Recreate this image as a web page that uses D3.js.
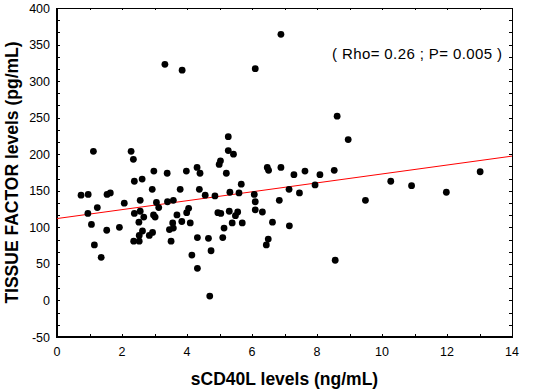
<!DOCTYPE html>
<html>
<head>
<meta charset="utf-8">
<script src="https://cdn.jsdelivr.net/npm/d3@7"></script>
<style>
  body { margin: 0; background: #fff; }
  text { font-family: Arial, "Liberation Sans", sans-serif; }
</style>
</head>
<body>
<div id="chart"></div>
<script>
// sCD40L (ng/mL) and tissue factor (pg/mL), one entry per patient
var scd40l = [
  0.74, 0.96, 1.12, 1.54, 1.64, 2.28, 2.35, 2.38, 2.62, 2.93, 2.98, 3.32, 3.39, 3.85, 3.79, 3.98,
  4.31, 4.40, 4.38, 4.56, 4.86, 4.99, 5.03, 5.21, 5.27, 5.27, 5.43, 5.32, 5.67, 5.60, 6.10, 6.07,
  6.89, 6.47, 6.51, 6.89, 7.29, 7.63, 8.09, 8.53, 8.62, 8.96, 7.14, 7.46, 7.94, 10.27, 10.91, 11.98,
  13.02, 6.84, 9.49, 6.63, 7.15, 8.56,
  0.95, 1.06, 1.15, 1.24, 1.36, 1.53, 1.92, 2.07, 2.38, 2.36, 2.53, 2.52, 2.56, 2.56, 2.63, 2.53,
  2.67, 2.84, 2.94, 2.97, 3.02, 3.06, 3.13, 3.40, 3.46, 3.51, 3.56, 3.58, 3.58, 3.69, 3.84, 3.99,
  4.05, 4.10, 4.15, 4.32, 4.32, 4.66, 4.70, 4.74, 4.95, 5.04, 5.10, 5.14, 5.30, 5.39, 5.49, 5.56,
  5.70, 6.10, 6.10, 6.32, 6.44, 6.50
];
var tissueFactor = [
  144, 145, 204, 145, 147, 204, 193, 163, 166, 152, 177, 323, 174, 315, 152, 177,
  182, 174, 152, 144, 143, 186, 191, 174, 224, 205, 200, 148, 159, 147, 317, 145,
  364, 182, 178, 182, 172, 177, 172, 178, 252, 220, 152, 147, 158, 163, 157, 148,
  176, 137, 137, 107, 102, 55,
  119, 104, 76, 127, 59, 96, 100, 133, 119, 81, 81, 107, 137, 122, 95, 89,
  114, 89, 93, 117, 114, 134, 127, 135, 97, 81, 106, 99, 137, 117, 108, 120,
  126, 106, 62, 86, 44, 85, 6, 68, 120, 119, 86, 99, 122, 106, 116, 121,
  106, 135, 124, 121, 76, 84
];

var xTicks = [0, 2, 4, 6, 8, 10, 12, 14];
var yTicks = [-50, 0, 50, 100, 150, 200, 250, 300, 350, 400];

// fitted line
var fitIntercept = 112, fitSlope = 6.1;
var statsLabel = "( Rho= 0.26 ; P= 0.005 )";

var width = 549, height = 392,
    margin = {top: 8, right: 37, bottom: 55, left: 57};

var svg = d3.select("#chart").append("svg")
    .attr("width", width)
    .attr("height", height);

var x = d3.scaleLinear().domain([0, 14]).range([margin.left, width - margin.right]);
var y = d3.scaleLinear().domain([-50, 400]).range([height - margin.bottom, margin.top]);

var x0 = x.range()[0], x1 = x.range()[1], y0 = y.range()[0], y1 = y.range()[1];

// minor ticks: every 1 on x, every 50/3 on y (inside the frame, all four sides)
var xMinor = d3.range(0, 14.001, 1);
var yMinor = d3.range(0, 28).map(function(i) { return -50 + i * 50 / 3; }).filter(function(v) { return v < 400; });

var ticks = svg.append("g").attr("stroke", "#000").attr("stroke-width", 1);
xMinor.forEach(function(v) {
  var px = Math.round(x(v)) + 0.5;
  ticks.append("line").attr("x1", px).attr("x2", px).attr("y1", y0).attr("y2", y0 - 3);
  ticks.append("line").attr("x1", px).attr("x2", px).attr("y1", y1).attr("y2", y1 + 2);
});
yMinor.forEach(function(v) {
  var py = Math.round(y(v)) + 0.5;
  ticks.append("line").attr("x1", x0).attr("x2", x0 + 3).attr("y1", py).attr("y2", py);
  ticks.append("line").attr("x1", x1).attr("x2", x1 - 3).attr("y1", py).attr("y2", py);
});

// frame
svg.append("line").attr("x1", x0).attr("x2", x1 + 0.5).attr("y1", y1 + 0.5).attr("y2", y1 + 0.5)
  .attr("stroke", "#000").attr("stroke-width", 1);
svg.append("line").attr("x1", x1 + 0.5).attr("x2", x1 + 0.5).attr("y1", y1).attr("y2", y0)
  .attr("stroke", "#000").attr("stroke-width", 1);
svg.append("line").attr("x1", x0).attr("x2", x0).attr("y1", y1).attr("y2", y0 + 1)
  .attr("stroke", "#000").attr("stroke-width", 2);
svg.append("line").attr("x1", x0 - 1).attr("x2", x1 + 1).attr("y1", y0).attr("y2", y0)
  .attr("stroke", "#000").attr("stroke-width", 2);

// tick labels
svg.append("g").selectAll("text")
  .data(xTicks)
  .enter().append("text")
    .attr("x", function(d) { return x(d); })
    .attr("y", y0 + 19)
    .attr("text-anchor", "middle")
    .attr("font-size", "12.5px")
    .text(function(d) { return d; });

svg.append("g").selectAll("text")
  .data(yTicks)
  .enter().append("text")
    .attr("x", x0 - 7)
    .attr("y", function(d) { return y(d) + 4.5; })
    .attr("text-anchor", "end")
    .attr("font-size", "12.5px")
    .text(function(d) { return d; });

// regression line
svg.append("line")
  .attr("x1", x(0)).attr("y1", y(fitIntercept))
  .attr("x2", x(14)).attr("y2", y(fitIntercept + fitSlope * 14))
  .attr("stroke", "#f00")
  .attr("stroke-width", 1);

// points
svg.append("g").selectAll("circle")
  .data(scd40l.map(function(d, i) { return [d, tissueFactor[i]]; }))
  .enter().append("circle")
    .attr("cx", function(d) { return x(d[0]); })
    .attr("cy", function(d) { return y(d[1]); })
    .attr("r", 3.4)
    .attr("fill", "#000");

// stats
svg.append("text")
  .attr("x", 332)
  .attr("y", 58.5)
  .attr("font-size", "15px")
  .attr("textLength", 170)
  .attr("lengthAdjust", "spacing")
  .text(statsLabel);

// axis titles
svg.append("text")
  .attr("x", (x0 + x1) / 2)
  .attr("y", 385)
  .attr("text-anchor", "middle")
  .attr("font-size", "17.5px")
  .attr("font-weight", "bold")
  .text("sCD40L levels (ng/mL)");

svg.append("text")
  .attr("transform", "translate(18," + ((y0 + y1) / 2) + ") rotate(-90)")
  .attr("text-anchor", "middle")
  .attr("font-size", "17.5px")
  .attr("font-weight", "bold")
  .text("TISSUE FACTOR levels (pg/mL)");
</script>
</body>
</html>
